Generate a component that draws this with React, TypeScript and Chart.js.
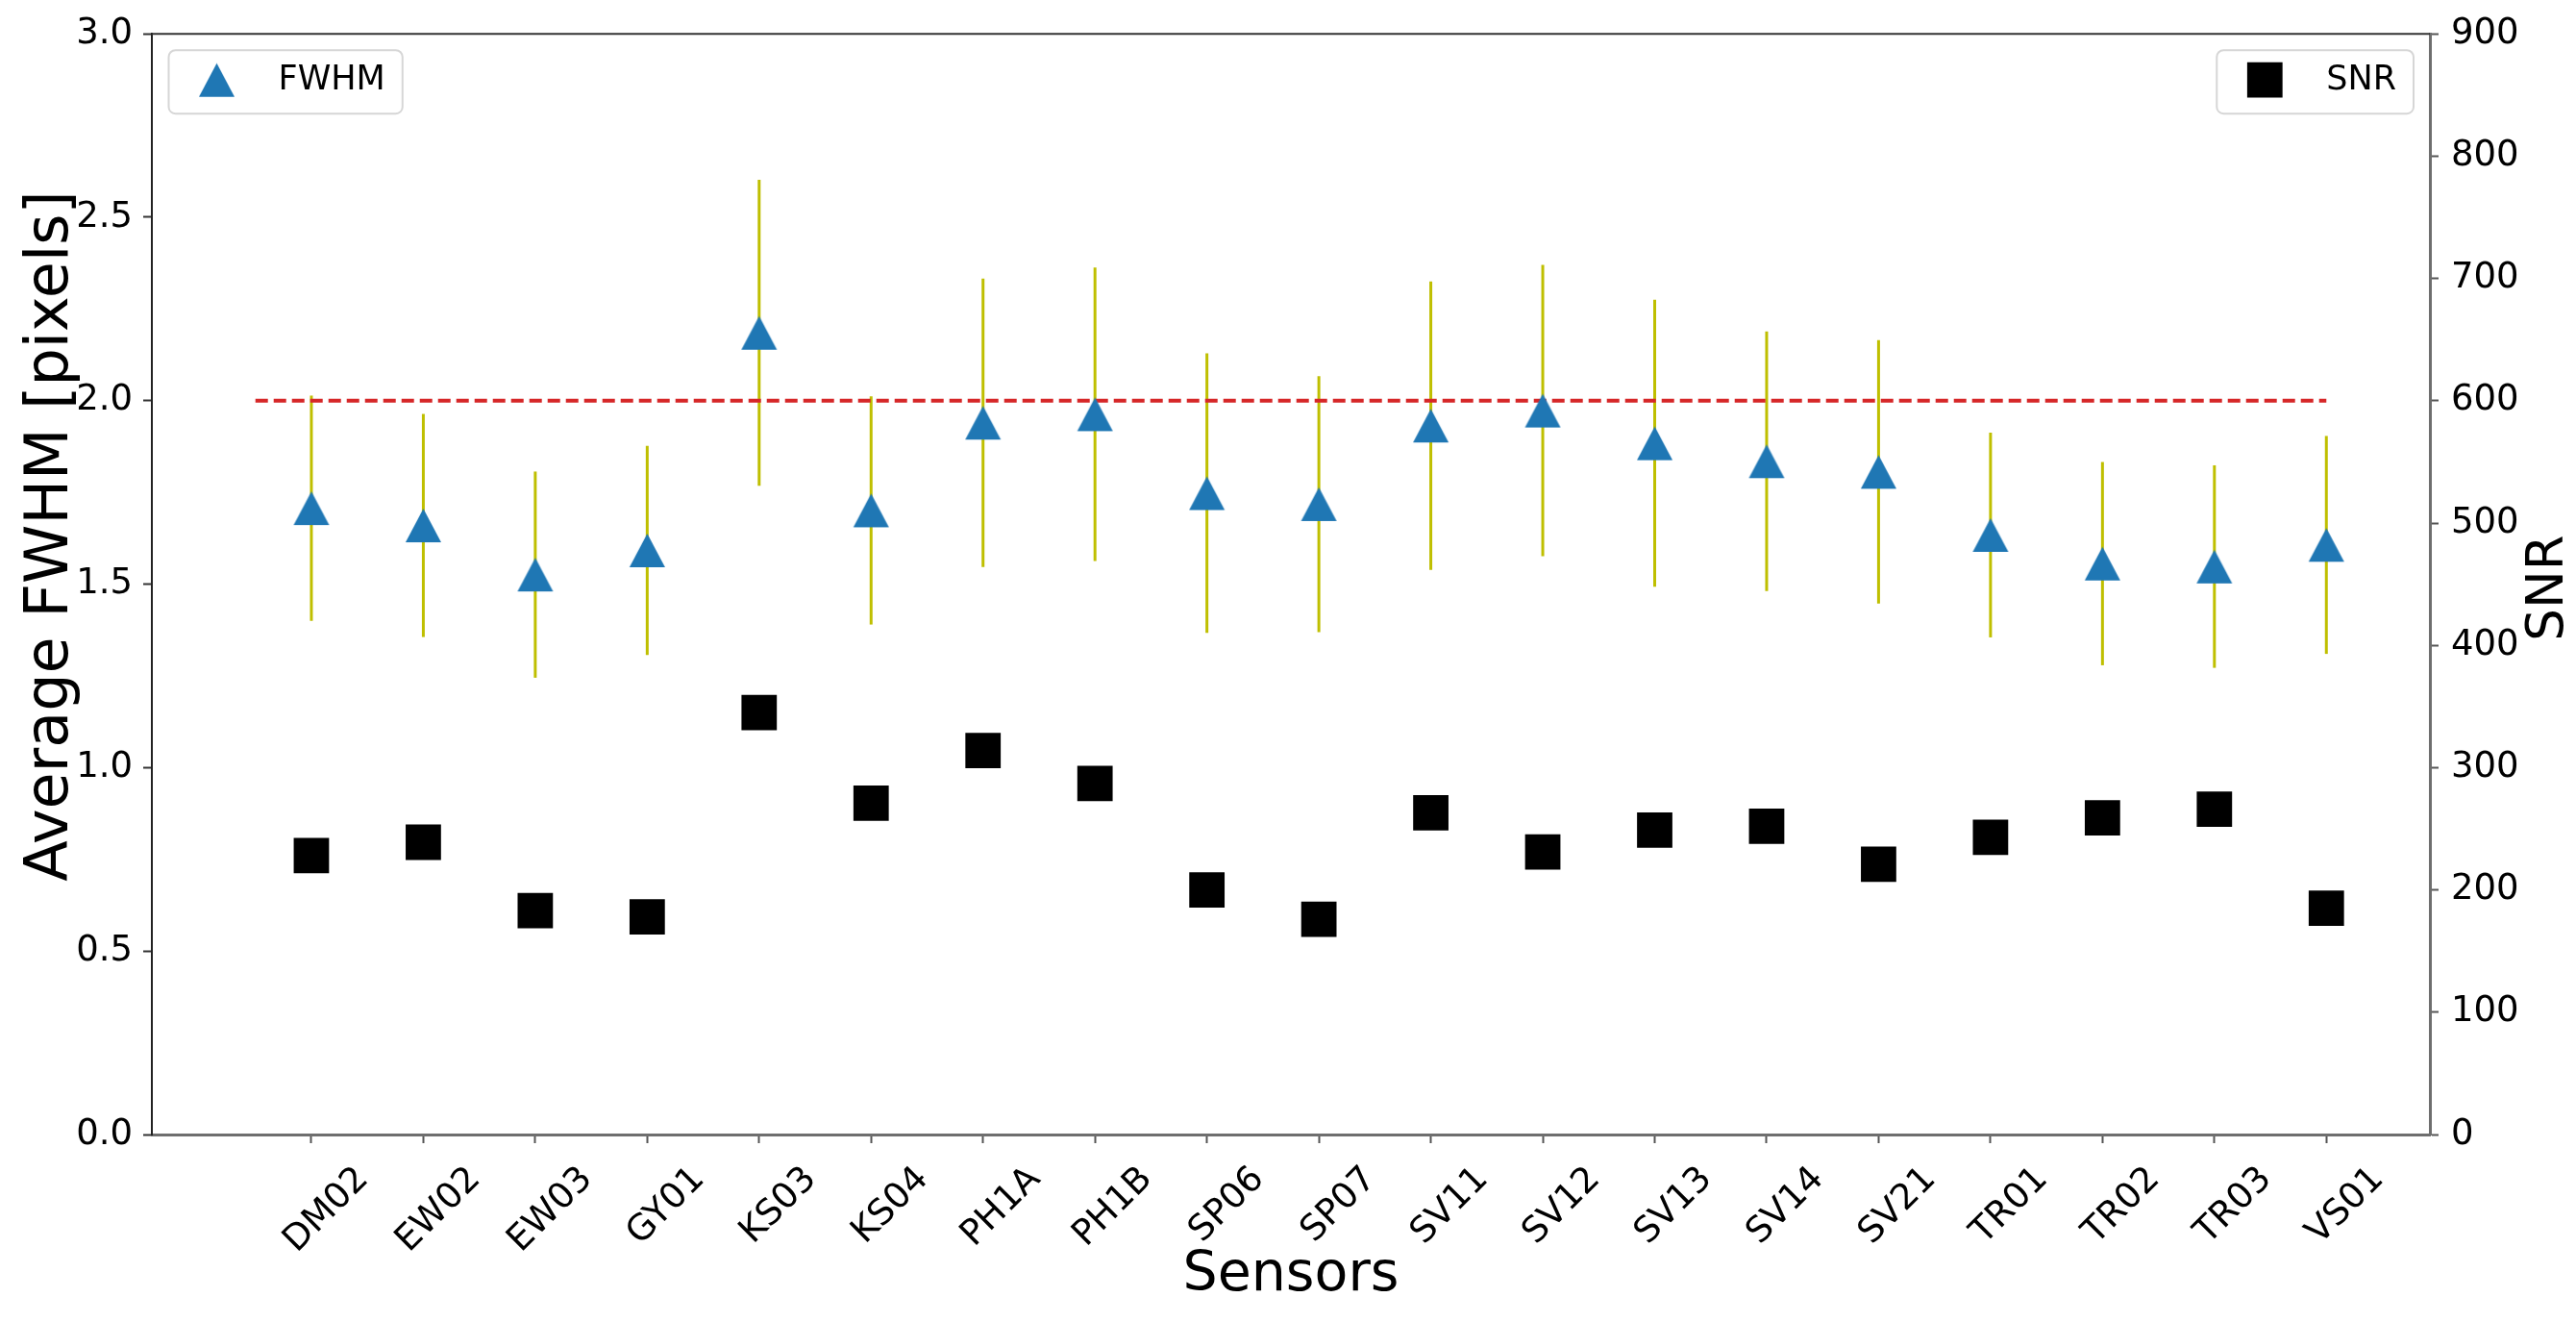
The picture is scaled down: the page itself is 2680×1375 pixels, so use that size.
import React, { useEffect, useRef } from 'react';
import { Chart, registerables } from 'chart.js';
import { drawPoint } from 'chart.js/helpers';

Chart.register(...registerables);

// ---------------- data ----------------
const SENSORS = ['DM02', 'EW02', 'EW03', 'GY01', 'KS03', 'KS04', 'PH1A', 'PH1B', 'SP06', 'SP07',
  'SV11', 'SV12', 'SV13', 'SV14', 'SV21', 'TR01', 'TR02', 'TR03', 'VS01'];
const FWHM_MEAN = [1.707, 1.660, 1.526, 1.592, 2.185, 1.701, 1.940, 1.963, 1.748, 1.718,
  1.932, 1.973, 1.884, 1.835, 1.806, 1.634, 1.556, 1.548, 1.607];
const FWHM_STD = [0.307, 0.304, 0.281, 0.285, 0.417, 0.311, 0.393, 0.400, 0.381, 0.349,
  0.393, 0.397, 0.391, 0.354, 0.359, 0.279, 0.277, 0.276, 0.297];
const SNR_VALUES = [228, 239, 183, 178, 345, 271, 314, 287, 200, 176,
  263, 231, 249, 252, 221, 243, 259, 266, 185];
const REFERENCE_X = [-0.5, 18];
const REFERENCE_FWHM = [2.0, 2.0];
const FWHM_TICKS = [0, 0.5, 1.0, 1.5, 2.0, 2.5, 3.0];
const SNR_TICKS = [0, 100, 200, 300, 400, 500, 600, 700, 800, 900];
const X_LIMITS = [-1.425, 18.925];

const FONT = "'DejaVu Sans', 'Noto Sans', sans-serif";
const TICK_SIZE = 37;

function makeTriangle(w: number, h: number, color: string) {
  const c = document.createElement('canvas');
  c.width = Math.ceil(w) + 2;
  c.height = Math.ceil(h) + 2;
  const g = c.getContext('2d')!;
  g.fillStyle = color;
  g.beginPath();
  g.moveTo(c.width / 2, 1);
  g.lineTo(c.width - 1, c.height - 1);
  g.lineTo(1, c.height - 1);
  g.closePath();
  g.fill();
  return c;
}

const errorBarPlugin = {
  id: 'errorBars',
  beforeDatasetsDraw(chart: any) {
    const { ctx, scales } = chart;
    const x = scales.x;
    const y = scales.y;
    ctx.save();
    ctx.strokeStyle = '#bfbf00';
    ctx.lineWidth = 3;
    FWHM_MEAN.forEach((v, i) => {
      const px = x.getPixelForValue(i);
      ctx.beginPath();
      ctx.moveTo(px, y.getPixelForValue(v - FWHM_STD[i]));
      ctx.lineTo(px, y.getPixelForValue(v + FWHM_STD[i]));
      ctx.stroke();
    });
    ctx.restore();
  },
};

const frameAndTextPlugin = {
  id: 'frameAndText',
  afterDraw(chart: any) {
    const { ctx, chartArea } = chart;
    const { left, right, top, bottom } = chartArea;
    ctx.save();
    // top spine
    ctx.strokeStyle = '#333';
    ctx.lineWidth = 2;
    ctx.beginPath();
    ctx.moveTo(left, top);
    ctx.lineTo(right, top);
    ctx.stroke();

    // y-axis titles (rotated, reading bottom to top)
    ctx.fillStyle = '#000';
    ctx.textAlign = 'center';
    ctx.textBaseline = 'alphabetic';
    ctx.font = `62px ${FONT}`;
    ctx.save();
    ctx.translate(70, (top + bottom) / 2 - 50);
    ctx.rotate(-Math.PI / 2);
    ctx.fillText('Average FWHM [pixels]', 0, 0);
    ctx.restore();

    ctx.font = `53px ${FONT}`;
    ctx.save();
    ctx.translate(right + 138, (top + bottom) / 2 + 4);
    ctx.rotate(-Math.PI / 2);
    ctx.fillText('SNR', 0, 0);
    ctx.restore();

    // legends inside the axes
    const f = 35;
    ctx.font = `${f}px ${FONT}`;
    const drawLegend = (dsIndex: number, side: 'left' | 'right') => {
      const ds = chart.data.datasets[dsIndex];
      const tw = ctx.measureText(ds.label).width;
      const w = 114 + tw + 18;
      const h = 66;
      const bx = side === 'left' ? left + 17.5 : right - 17 - w;
      const by = top + 17;
      ctx.save();
      ctx.beginPath();
      (ctx as any).roundRect(bx, by, w, h, 7);
      ctx.fillStyle = 'rgba(255,255,255,0.85)';
      ctx.fill();
      ctx.strokeStyle = '#d6d6d6';
      ctx.lineWidth = 2;
      ctx.stroke();
      ctx.fillStyle = ds.backgroundColor;
      drawPoint(ctx, { pointStyle: ds.pointStyle, radius: ds.pointRadius, rotation: 0, borderWidth: 0 } as any, bx + 50, by + 31);
      ctx.fillStyle = '#000';
      ctx.textAlign = 'left';
      ctx.textBaseline = 'middle';
      ctx.fillText(ds.label, bx + 114, by + 32);
      ctx.restore();
    };
    drawLegend(0, 'left');
    drawLegend(1, 'right');
    ctx.restore();
  },
};

export default function App() {
  const ref = useRef<HTMLCanvasElement>(null);

  useEffect(() => {
    if (!ref.current) return;
    const tri = makeTriangle(37, 35, '#1f77b4');
    const chart = new Chart(ref.current, {
      type: 'scatter',
      data: {
        datasets: [
          {
            type: 'scatter',
            label: 'FWHM',
            data: SENSORS.map((_, i) => ({ x: i, y: FWHM_MEAN[i] })),
            yAxisID: 'y',
            pointStyle: tri as any,
            pointRadius: 18,
            pointHoverRadius: 18,
            backgroundColor: '#1f77b4',
            borderWidth: 0,
          },
          {
            type: 'scatter',
            label: 'SNR',
            data: SENSORS.map((_, i) => ({ x: i, y: SNR_VALUES[i] })),
            yAxisID: 'y1',
            pointStyle: 'rect',
            pointRadius: 26,
            pointHoverRadius: 26,
            backgroundColor: '#000000',
            borderWidth: 0,
          },
          {
            type: 'line',
            label: 'Reference',
            data: REFERENCE_X.map((x, i) => ({ x, y: REFERENCE_FWHM[i] })),
            yAxisID: 'y',
            borderColor: '#d62728',
            borderWidth: 4,
            borderDash: [13, 6],
            pointRadius: 0,
            fill: false,
          } as any,
        ],
      },
      options: {
        animation: false,
        responsive: false,
        events: [],
        layout: { padding: { top: 32, left: 0, right: 0, bottom: 0 } },
        plugins: { legend: { display: false }, tooltip: { enabled: false } },
        scales: {
          x: {
            type: 'linear',
            position: 'bottom',
            min: X_LIMITS[0],
            max: X_LIMITS[1],
            afterBuildTicks: (s: any) => { s.ticks = SENSORS.map((_, i) => ({ value: i })); },
            afterFit: (s: any) => { s.height = 195; },
            ticks: {
              autoSkip: false,
              minRotation: 45,
              maxRotation: 45,
              padding: 16,
              labelOffset: 54,
              color: '#000',
              font: { family: FONT, size: TICK_SIZE },
              callback: (v: any) => SENSORS[Math.round(Number(v))] ?? '',
            },
            grid: { drawOnChartArea: false, drawTicks: true, tickLength: 9, tickWidth: 2, tickColor: '#555' },
            border: { display: true, color: '#6e6e6e', width: 3 },
            title: {
              display: true,
              text: 'Sensors',
              color: '#000',
              font: { family: FONT, size: 57 },
              padding: { top: 0, bottom: 14 },
            },
          },
          y: {
            type: 'linear',
            position: 'left',
            min: 0,
            max: 3,
            afterBuildTicks: (s: any) => { s.ticks = FWHM_TICKS.map((v) => ({ value: v })); },
            afterFit: (s: any) => { s.width = 158; },
            ticks: {
              padding: 11,
              color: '#000',
              font: { family: FONT, size: TICK_SIZE },
              callback: (v: any) => Number(v).toFixed(1),
            },
            grid: { drawOnChartArea: false, drawTicks: true, tickLength: 9, tickWidth: 2, tickColor: '#333' },
            border: { display: true, color: '#222', width: 2 },
          },
          y1: {
            type: 'linear',
            position: 'right',
            min: 0,
            max: 900,
            afterBuildTicks: (s: any) => { s.ticks = SNR_TICKS.map((v) => ({ value: v })); },
            afterFit: (s: any) => { s.width = 152; },
            ticks: {
              padding: 13,
              color: '#000',
              font: { family: FONT, size: TICK_SIZE },
              callback: (v: any) => String(v),
            },
            grid: { drawOnChartArea: false, drawTicks: true, tickLength: 9, tickWidth: 2, tickColor: '#555' },
            border: { display: true, color: '#6e6e6e', width: 3 },
          },
        },
      } as any,
      plugins: [errorBarPlugin, frameAndTextPlugin],
    });
    return () => chart.destroy();
  }, []);

  return (
    <div style={{ position: 'absolute', left: 0, top: 0, width: 2680, height: 1375, background: '#fff' }}>
      <canvas ref={ref} width={2680} height={1375} style={{ display: 'block' }} />
    </div>
  );
}
